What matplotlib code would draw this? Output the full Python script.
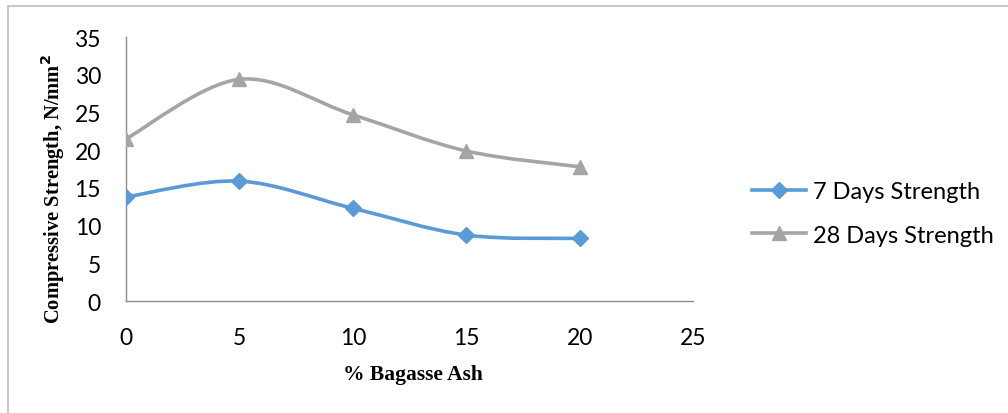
import numpy as np
import matplotlib
matplotlib.use('Agg')
import matplotlib.pyplot as plt
from matplotlib.path import Path
from matplotlib.patches import PathPatch
from matplotlib.lines import Line2D

ash_pct = [0, 5, 10, 15, 20]
strength_7 = [13.8, 15.9, 12.3, 8.75, 8.3]
strength_28 = [21.5, 29.4, 24.7, 19.9, 17.8]
series_names = ["7 Days Strength", "28 Days Strength"]
x_ticks = [0, 5, 10, 15, 20, 25]
y_ticks = [0, 5, 10, 15, 20, 25, 30, 35]

blue = "#5B9BD5"
grey = "#A5A5A5"
tick_font = "Lato"


def smooth_path(xs, ys):
    # excel style smoothed line: bezier segments, catmull-rom control points
    pts = np.column_stack([xs, ys]).astype(float)
    n = len(pts)
    verts = [pts[0]]
    codes = [Path.MOVETO]
    for i in range(n - 1):
        p0 = pts[max(i - 1, 0)]
        p1 = pts[i]
        p2 = pts[i + 1]
        p3 = pts[min(i + 2, n - 1)]
        c1 = p1 + (p2 - p0) / 6.0
        c2 = p2 - (p3 - p1) / 6.0
        verts += [c1, c2, p2]
        codes += [Path.CURVE4] * 3
    return Path(verts, codes)


fig = plt.figure(figsize=(10.08, 4.14), dpi=100)
ax = fig.add_axes([0.125, 0.2705, 0.5625, 0.6375])

for ys, col, mk, ms in [(strength_7, blue, "D", 8.5), (strength_28, grey, "^", 10.5)]:
    ax.add_patch(PathPatch(smooth_path(ash_pct, ys), facecolor="none",
                           edgecolor=col, lw=2.6, zorder=2))
    ax.plot(ash_pct, ys, ls="none", marker=mk, ms=ms, color=col, zorder=3)

ax.set_xlim(0, 25)
ax.set_ylim(0, 35)
ax.set_xticks(x_ticks)
ax.set_yticks(y_ticks)
ax.tick_params(length=0, labelsize=16.5)
ax.tick_params(axis="x", pad=19)
ax.tick_params(axis="y", pad=18)
for lab in ax.get_xticklabels() + ax.get_yticklabels():
    lab.set_fontfamily(tick_font)
for s in ["top", "right"]:
    ax.spines[s].set_visible(False)
for s in ["left", "bottom"]:
    ax.spines[s].set_color("#8C8C8C")
    ax.spines[s].set_linewidth(1.0)

fig.text(0.41, 0.094, "% Bagasse Ash", family="Liberation Serif", weight="bold",
         fontsize=15.5, ha="center", va="center")
fig.text(0.052, 0.543, "Compressive Strength, N/mm$^\\mathbf{2}$", family="Liberation Serif",
         weight="bold", fontsize=14.8, ha="center", va="center", rotation=90)

handles = [Line2D([], [], color=blue, lw=2.6, marker="D", ms=8.5),
           Line2D([], [], color=grey, lw=2.6, marker="^", ms=10.5)]
fig.legend(handles, series_names, loc="center left", bbox_to_anchor=(0.725, 0.482),
           frameon=False, prop={"family": tick_font, "size": 17}, handlelength=2.3,
           labelspacing=0.95, handletextpad=0.3)

# chart frame
fig.add_artist(Line2D([0.008, 0.008], [0.0, 0.983], color="#BFBFBF", lw=1.2))
fig.add_artist(Line2D([0.008, 1.0], [0.983, 0.983], color="#BFBFBF", lw=1.2))

fig.savefig("out.png", dpi=100)
